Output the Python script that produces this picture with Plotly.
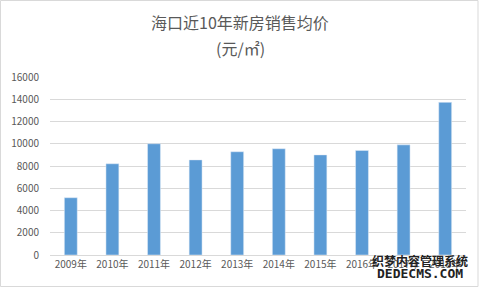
import plotly.graph_objects as go

years = ["2009年", "2010年", "2011年", "2012年", "2013年", "2014年", "2015年", "2016年", "2017年", "2018年"]
prices = [5150, 8200, 10000, 8550, 9280, 9550, 9000, 9400, 9900, 13720]
y_ticks = [0, 2000, 4000, 6000, 8000, 10000, 12000, 14000, 16000]
title_lines = ["海口近10年新房销售均价", "(元/㎡)"]

W, H = 481, 288
L, R, T, B = 50, 15, 77, 33
pw, ph = W - L - R, H - T - B

def px_x(p):
    return (p - L) / pw

def px_y(p):
    return (H - B - p) / ph

fig = go.Figure(go.Bar(x=years, y=prices, marker_color="#5b9bd5", width=0.31))

fig.update_layout(
    width=W, height=H,
    margin=dict(l=L, r=R, t=T, b=B),
    paper_bgcolor="white", plot_bgcolor="white",
    font=dict(family="Noto Sans CJK SC, sans-serif", color="#595959", size=10),
    showlegend=False,
    xaxis=dict(showgrid=False, showline=True, linecolor="#d9d9d9", linewidth=1,
               ticks="", tickfont=dict(size=10, color="#595959")),
    yaxis=dict(range=[0, 16000], tickvals=y_ticks, tickformat="d", showgrid=True,
               gridcolor="#d9d9d9", gridwidth=1, zeroline=False, showline=False, ticks="",
               ticklabelstandoff=10, tickfont=dict(size=10, color="#595959")),
    shapes=[dict(type="rect", xref="paper", yref="paper",
                 x0=px_x(0.5), x1=px_x(478), y0=px_y(286.5), y1=px_y(0.5),
                 line=dict(color="#d9d9d9", width=1), fillcolor="rgba(0,0,0,0)", layer="below")],
    annotations=[
        dict(text=title_lines[0], xref="paper", yref="paper", x=px_x(240), y=px_y(22),
             showarrow=False, font=dict(size=16, color="#595959"), xanchor="center", yanchor="middle"),
        dict(text=title_lines[1], xref="paper", yref="paper", x=px_x(240), y=px_y(48),
             showarrow=False, font=dict(size=16, color="#595959"), xanchor="center", yanchor="middle"),
        dict(text="<b>织梦内容管理系统</b>", xref="paper", yref="paper", x=px_x(420), y=px_y(260),
             showarrow=False, font=dict(size=12, color="#222222"), xanchor="center", yanchor="middle"),
        dict(text="<b>DEDECMS.COM</b>", xref="paper", yref="paper", x=px_x(420), y=px_y(273),
             showarrow=False, font=dict(size=13, color="#222222", family="DejaVu Sans Mono"),
             xanchor="center", yanchor="middle"),
    ],
)

fig.write_html("out.html")
